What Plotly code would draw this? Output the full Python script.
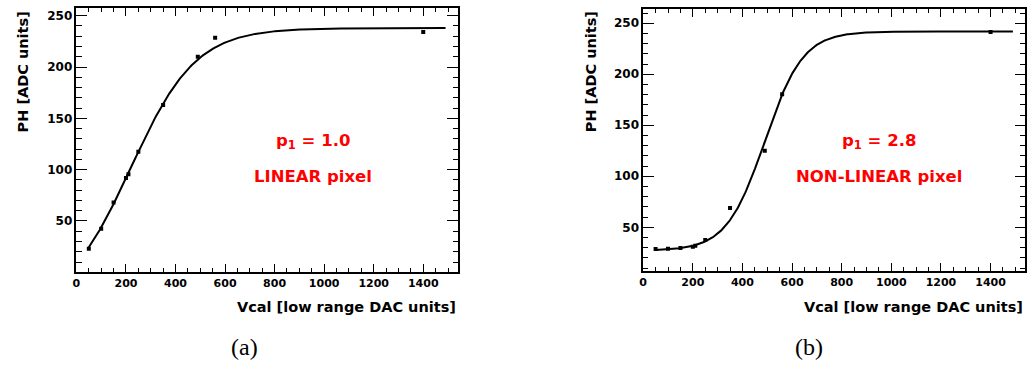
import numpy as np
import plotly.graph_objects as go

# ---- data ----
vcal_a = [50, 100, 150, 200, 210, 250, 350, 490, 560, 1400]
ph_a = [23, 42.5, 68, 92, 95.5, 117.5, 163, 210, 228.6, 234]
vcal_b = [50, 100, 150, 200, 210, 250, 350, 490, 560, 1400]
ph_b = [28.7, 29, 29.7, 31, 32, 37.5, 69, 125, 180.4, 241.5]

# fitted tanh curves: y = off + amp * tanh((x - mid) / width)
fit_a = dict(off=102, amp=136, mid=220, width=262)
fit_b = dict(off=134.5, amp=107.5, mid=490, width=154)
fit_range = (50, 1490)

labels_a = ("p<sub>1</sub> = 1.0", "LINEAR pixel")
labels_b = ("p<sub>1</sub> = 2.8", "NON-LINEAR pixel")
xtitle = "Vcal [low range DAC units]"
ytitle = "PH [ADC units]"
captions = ("(a)", "(b)")

W, H = 1027, 368
FONT = "DejaVu Sans"


def curve(p):
    x = np.linspace(fit_range[0], fit_range[1], 400)
    return x, p["off"] + p["amp"] * np.tanh((x - p["mid"]) / p["width"])


fig = go.Figure()

panels = [
    dict(x=vcal_a, y=ph_a, fit=fit_a, lab=labels_a, xd=(72.7, 455.7), yd=(8.3, 271.7),
         yr=(0.6, 257.2), xs="x", ys="y", cap=captions[0], capx=241.5, labx=310, ytx=19),
    dict(x=vcal_b, y=ph_b, fit=fit_b, lab=labels_b, xd=(641.7, 1025.3), yd=(9.0, 270.7),
         yr=(7.45, 264.0), xs="x2", ys="y2", cap=captions[1], capx=808, labx=878, ytx=589),
]

annotations = []
for i, p in enumerate(panels):
    cx, cy = curve(p["fit"])
    fig.add_trace(go.Scatter(x=cx, y=cy, mode="lines", line=dict(color="black", width=2),
                             xaxis=p["xs"], yaxis=p["ys"], showlegend=False, hoverinfo="skip"))
    fig.add_trace(go.Scatter(x=p["x"], y=p["y"], mode="markers",
                             marker=dict(symbol="square", size=4, color="black"),
                             xaxis=p["xs"], yaxis=p["ys"], showlegend=False))
    axis_common = dict(
        showline=True, linecolor="black", linewidth=1.5, mirror="ticks",
        ticks="inside", tickcolor="black", tickwidth=1,
        showgrid=False, zeroline=False,
        tickfont=dict(family=FONT, size=12, color="black", weight="bold"),
    )
    xname = "xaxis" if i == 0 else "xaxis2"
    yname = "yaxis" if i == 0 else "yaxis2"
    xd = [p["xd"][0] / W, p["xd"][1] / W]
    yd = [1 - p["yd"][1] / H, 1 - p["yd"][0] / H]
    xa = dict(axis_common)
    xa.update(domain=xd, range=[0, 1540], dtick=200, tick0=0, ticklen=8,
              minor=dict(dtick=50, ticklen=4, ticks="inside", tickcolor="black", showgrid=False),
              anchor="y" if i == 0 else "y2",
              tickfont=dict(family=FONT, size=11, color="black", weight="bold"))
    ya = dict(axis_common)
    ya.update(domain=yd, range=list(p["yr"]), dtick=50, tick0=0, ticklen=11,
              minor=dict(dtick=10, ticklen=5.5, ticks="inside", tickcolor="black", showgrid=False),
              anchor="x" if i == 0 else "x2")
    fig.update_layout(**{xname: xa, yname: ya})

    # axis titles
    annotations.append(dict(text=xtitle, xref="paper", yref="paper",
                            x=p["xd"][1] / W, y=1 - 307 / H, xanchor="right", yanchor="middle",
                            showarrow=False,
                            font=dict(family=FONT, size=14.5, color="black", weight="bold")))
    annotations.append(dict(text=ytitle, xref="paper", yref="paper", textangle=-90,
                            x=p["ytx"] / W, y=1 - 9 / H, xanchor="center", yanchor="top",
                            showarrow=False,
                            font=dict(family=FONT, size=14.5, color="black", weight="bold")))
    # red labels
    annotations.append(dict(text=p["lab"][0], xref="paper", yref="paper",
                            x=p["labx"] / W, y=1 - 141 / H, xanchor="center", yanchor="middle",
                            showarrow=False,
                            font=dict(family=FONT, size=16.5, color="#ff0000", weight="bold")))
    annotations.append(dict(text=p["lab"][1], xref="paper", yref="paper",
                            x=p["labx"] / W, y=1 - 176 / H, xanchor="center", yanchor="middle",
                            showarrow=False,
                            font=dict(family=FONT, size=16.5, color="#ff0000", weight="bold")))
    # captions
    annotations.append(dict(text=p["cap"], xref="paper", yref="paper",
                            x=p["capx"] / W, y=1 - 347 / H, xanchor="center", yanchor="middle",
                            showarrow=False,
                            font=dict(family="Liberation Serif", size=24, color="black")))

fig.update_layout(
    width=W, height=H, margin=dict(l=0, r=0, t=0, b=0),
    paper_bgcolor="white", plot_bgcolor="white",
    annotations=annotations, showlegend=False,
)

fig.write_html("out.html")
